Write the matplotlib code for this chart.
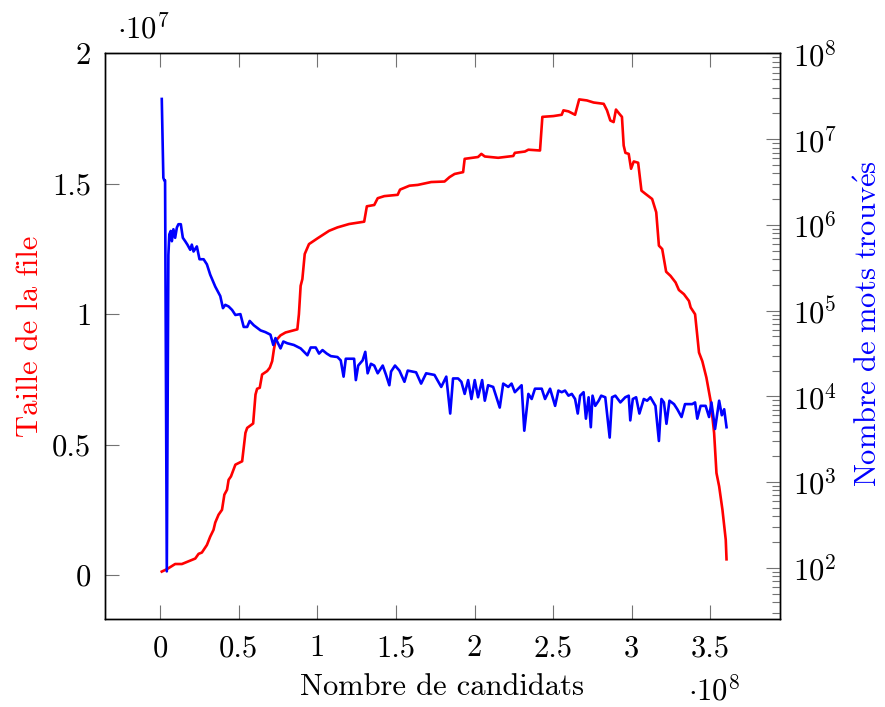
import numpy as np
import matplotlib
matplotlib.use("Agg")
import matplotlib.pyplot as plt
from matplotlib.ticker import LogLocator, FixedLocator, NullFormatter

plt.rcParams['font.family'] = ['cmr10', 'DejaVu Serif']
plt.rcParams['mathtext.fontset'] = 'cm'
plt.rcParams['axes.unicode_minus'] = False

# Taille de la file (x in 1e8 candidates, y in 1e7)
file_x = [0.011, 0.043, 0.096, 0.139, 0.224, 0.245, 0.266, 0.298, 0.319, 0.340, 0.351,
          0.372, 0.394, 0.409, 0.426, 0.436, 0.451, 0.479, 0.522, 0.543, 0.554, 0.592,
          0.607, 0.617, 0.634, 0.649, 0.681, 0.698, 0.713, 0.724, 0.734, 0.766, 0.798,
          0.873, 0.883, 0.894, 0.905, 0.920, 0.947, 0.979, 1.001, 1.075, 1.128, 1.202,
          1.298, 1.315, 1.362, 1.384, 1.426, 1.511, 1.526, 1.586, 1.639, 1.724, 1.809,
          1.841, 1.873, 1.927, 1.937, 2.022, 2.043, 2.065, 2.150, 2.246, 2.256, 2.320,
          2.342, 2.416, 2.431, 2.501, 2.554, 2.565, 2.597, 2.639, 2.665, 2.714, 2.757,
          2.821, 2.842, 2.863, 2.884, 2.899, 2.920, 2.937, 2.948, 2.959, 2.980, 2.995,
          3.012, 3.040, 3.061, 3.086, 3.129, 3.155, 3.172, 3.193, 3.218, 3.246, 3.278,
          3.299, 3.331, 3.363, 3.374, 3.402, 3.427, 3.448, 3.474, 3.501, 3.523, 3.538,
          3.555, 3.576, 3.597, 3.602]
file_y = [0.013, 0.022, 0.042, 0.042, 0.063, 0.081, 0.086, 0.115, 0.147, 0.173, 0.201,
          0.231, 0.250, 0.308, 0.327, 0.365, 0.378, 0.423, 0.436, 0.545, 0.564, 0.581,
          0.692, 0.714, 0.718, 0.769, 0.782, 0.795, 0.820, 0.865, 0.897, 0.919, 0.930,
          0.942, 1.000, 1.109, 1.135, 1.231, 1.269, 1.282, 1.291, 1.320, 1.333,
          1.346, 1.355, 1.414, 1.419, 1.445, 1.453, 1.458, 1.478, 1.493, 1.496, 1.507,
          1.509, 1.526, 1.538, 1.545, 1.596, 1.603, 1.615, 1.605, 1.600, 1.607, 1.619,
          1.624, 1.631, 1.628, 1.757, 1.760, 1.765, 1.782, 1.778, 1.765, 1.824, 1.820,
          1.812, 1.807, 1.782, 1.743, 1.737, 1.785, 1.769, 1.757, 1.647, 1.619, 1.615,
          1.558, 1.586, 1.581, 1.474, 1.462, 1.442, 1.391, 1.263, 1.250, 1.163, 1.147,
          1.122, 1.093, 1.077, 1.051, 1.026, 1.000, 0.853, 0.820, 0.757, 0.667, 0.545,
          0.391, 0.340, 0.250, 0.135, 0.060]

# Nombre de mots trouvés (x in 1e8 candidates)
mots_x = [0.011, 0.021, 0.027, 0.032, 0.043, 0.053, 0.059, 0.068, 0.075, 0.085, 0.096,
          0.107, 0.117, 0.132, 0.145, 0.160, 0.174, 0.192, 0.202, 0.213, 0.234, 0.251,
          0.277, 0.298, 0.319, 0.351, 0.383, 0.400, 0.415, 0.436, 0.458, 0.479, 0.511,
          0.532, 0.554, 0.570, 0.596, 0.639, 0.670, 0.702, 0.720, 0.734, 0.766, 0.784,
          0.809, 0.851, 0.894, 0.937, 0.958, 0.990, 1.011, 1.033, 1.060, 1.086, 1.128,
          1.149, 1.167, 1.181, 1.234, 1.245, 1.260, 1.288, 1.305, 1.320, 1.341, 1.362,
          1.384, 1.416, 1.437, 1.458, 1.469, 1.494, 1.522, 1.554, 1.575, 1.628, 1.660,
          1.692, 1.745, 1.788, 1.820, 1.845, 1.863, 1.895, 1.916, 1.937, 1.959, 1.980,
          2.001, 2.022, 2.048, 2.065, 2.086, 2.118, 2.160, 2.182, 2.214, 2.235, 2.256,
          2.299, 2.316, 2.342, 2.363, 2.384, 2.427, 2.448, 2.480, 2.512, 2.533, 2.554,
          2.575, 2.597, 2.618, 2.639, 2.656, 2.671, 2.693, 2.708, 2.725, 2.739, 2.750,
          2.767, 2.789, 2.805, 2.831, 2.859, 2.874, 2.895, 2.927, 2.958, 2.980, 2.990,
          3.006, 3.027, 3.048, 3.076, 3.097, 3.118, 3.150, 3.172, 3.188, 3.204, 3.220,
          3.239, 3.268, 3.289, 3.316, 3.338, 3.384, 3.402, 3.416, 3.437, 3.469, 3.491,
          3.506, 3.529, 3.555, 3.572, 3.587, 3.602]
mots_y = [2.95e7, 3.55e6, 3.31e6, 3.31e6, 91, 4.47e5, 7.76e5, 8.51e5, 6.46e5, 8.91e5, 7.08e5,
          9.33e5, 1.02e6, 1.02e6, 7.08e5, 6.46e5, 5.89e5, 5.13e5, 5.89e5, 4.90e5, 5.62e5, 3.98e5,
          3.98e5, 3.47e5, 2.63e5, 1.91e5, 1.48e5, 1.07e5, 1.17e5, 1.12e5, 1.02e5, 8.91e4, 9.12e4,
          6.46e4, 6.46e4, 7.59e4, 6.76e4, 5.89e4, 5.62e4, 5.25e4, 3.98e4, 4.79e4, 3.63e4, 4.37e4,
          4.17e4, 3.98e4, 3.63e4, 3.02e4, 3.72e4, 3.72e4, 3.16e4, 3.47e4, 3.16e4, 2.95e4, 2.88e4,
          2.63e4, 1.70e4, 2.75e4, 2.75e4, 1.55e4, 2.29e4, 2.63e4, 3.31e4, 1.86e4, 2.40e4, 2.29e4,
          1.86e4, 2.29e4, 1.78e4, 1.35e4, 1.95e4, 2.29e4, 2.00e4, 1.48e4, 2.00e4, 1.91e4, 1.41e4,
          1.86e4, 1.78e4, 1.29e4, 1.70e4, 6.31e3, 1.62e4, 1.62e4, 1.48e4, 1.07e4, 1.55e4, 9.33e3,
          1.55e4, 9.77e3, 1.55e4, 8.91e3, 1.35e4, 1.29e4, 7.41e3, 1.41e4, 1.29e4, 1.41e4, 1.12e4,
          1.35e4, 3.98e3, 1.07e4, 9.33e3, 1.23e4, 1.23e4, 9.33e3, 1.23e4, 7.76e3, 1.17e4, 1.12e4,
          1.17e4, 1.02e4, 1.07e4, 9.33e3, 6.31e3, 1.02e4, 1.12e4, 5.50e3, 9.77e3, 4.37e3, 1.02e4,
          7.76e3, 8.91e3, 1.02e4, 9.77e3, 3.31e3, 9.77e3, 1.02e4, 8.51e3, 9.77e3, 1.02e4, 5.25e3,
          9.33e3, 9.77e3, 6.31e3, 9.33e3, 8.91e3, 9.77e3, 7.76e3, 3.02e3, 9.33e3, 8.51e3, 4.79e3,
          8.91e3, 8.13e3, 7.08e3, 5.75e3, 8.13e3, 8.13e3, 8.51e3, 5.50e3, 7.76e3, 7.76e3, 5.75e3,
          8.51e3, 4.17e3, 8.91e3, 6.03e3, 7.08e3, 4.37e3]

x_ticks = [0, 0.5, 1, 1.5, 2, 2.5, 3, 3.5]
x_ticklabels = ['0', '0.5', '1', '1.5', '2', '2.5', '3', '3.5']
y_ticks = [0, 0.5, 1, 1.5, 2]
y_ticklabels = ['0', '0.5', '1', '1.5', '2']

FS = 22
tick_col = '0.45'

fig = plt.figure(figsize=(8.85, 7.07), dpi=100)
ax = fig.add_axes([0.11864, 0.12405, 0.76272, 0.80028])
ax2 = ax.twinx()

ax.plot(np.array(file_x) * 1e8, np.array(file_y) * 1e7, color='#ff0000', lw=1.9)
ax2.plot(np.array(mots_x) * 1e8, mots_y, color='#0000ff', lw=1.9)

ax.set_xlim(-0.35e8, 3.942e8)
ax.set_ylim(-0.17e7, 2.0e7)
ax2.set_yscale('log')
ax2.set_ylim(10 ** 1.4, 10 ** 8.0)

ax.set_xticks(np.array(x_ticks) * 1e8)
ax.set_xticklabels(x_ticklabels, fontsize=FS)
ax.set_yticks(np.array(y_ticks) * 1e7)
ax.set_yticklabels(y_ticklabels, fontsize=FS)

ax.tick_params(axis='x', which='both', direction='in', top=True, bottom=True,
               length=10, width=0.8, color=tick_col, pad=11)
ax.tick_params(axis='y', which='both', direction='in', left=True, right=False,
               length=10, width=0.8, color=tick_col, pad=10)

ax2.yaxis.set_major_locator(FixedLocator([1e2, 1e3, 1e4, 1e5, 1e6, 1e7, 1e8]))
ax2.yaxis.set_minor_locator(LogLocator(base=10, subs=np.arange(2, 10), numticks=20))
ax2.yaxis.set_minor_formatter(NullFormatter())
ax2.set_yticklabels([r'$10^{%d}$' % k for k in range(2, 9)], fontsize=FS)
ax2.tick_params(axis='y', which='major', direction='in', right=True, left=False,
                length=10, width=0.8, color=tick_col, pad=9)
ax2.tick_params(axis='y', which='minor', direction='in', right=True, left=False,
                length=6, width=0.8, color=tick_col)

for a in (ax, ax2):
    for s in a.spines.values():
        s.set_linewidth(1.0)
        s.set_color('black')

ax.set_xlabel('Nombre de candidats', fontsize=FS, labelpad=8)
ax.set_ylabel('Taille de la file', fontsize=FS, color='#ff0000', labelpad=6)
ax2.set_ylabel(r'$\mathrm{Nombre\ de\ mots\ trouv\acute{e}s}$', fontsize=FS,
               color='#0000ff')
ax2.yaxis.set_label_coords(1.111, 0.523)

fig.text(117 / 885, 1 - 38 / 707, r'$\cdot 10^{7}$', fontsize=FS, ha='left', va='baseline')
fig.text(688 / 885, 1 - 700 / 707, r'$\cdot 10^{8}$', fontsize=FS, ha='left', va='baseline')

fig.savefig('out.png', dpi=100)
